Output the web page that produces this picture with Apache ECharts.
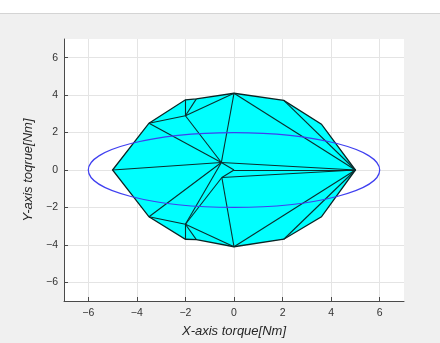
<!DOCTYPE html>
<html><head><meta charset="utf-8">
<script src="https://cdn.jsdelivr.net/npm/echarts@6/dist/echarts.min.js"></script>
<style>html,body{margin:0;padding:0;background:#f0f0f0}#c{width:440px;height:343px}</style>
</head><body><div id="c"></div>
<script>
// tick labels
const xTicks = [-6, -4, -2, 0, 2, 4, 6];
const yTicks = [-6, -4, -2, 0, 2, 4, 6];
const axisMin = -7, axisMax = 7;

// vertices
const vertexNames = ['L', 'A', 'B', 'C', 'T', 'E', 'F', 'R', 'F2', 'E2', 'T2', 'C2', 'B2', 'A2', 'D', 'D2', 'O', 'P', 'Q'];
const vertexX     = [-5, -3.5, -2.0, -1.55, 0, 2.05, 3.6, 5, 3.6, 2.05, 0, -1.55, -2.0, -3.5, -2.0, -2.0, -0.52, 0, -0.5];
const vertexY     = [0, 2.5, 3.75, 3.8, 4.1, 3.72, 2.45, 0, -2.5, -3.7, -4.1, -3.72, -3.7, -2.5, 2.9, -2.9, 0.4, 0, -0.4];

// outline of the filled region
const hullOrder = ['L', 'A', 'B', 'C', 'T', 'E', 'F', 'R', 'F2', 'E2', 'T2', 'C2', 'B2', 'A2'];

// inner edges
const edgeFrom = ['A', 'B', 'D', 'D', 'D', 'A', 'L', 'T', 'O', 'O', 'T', 'E', 'P', 'P', 'Q', 'A2', 'B2', 'D2', 'D2', 'D2', 'A2', 'Q', 'T2', 'E2', 'Q'];
const edgeTo   = ['D', 'D', 'C', 'T', 'O', 'O', 'O', 'O', 'P', 'R', 'R', 'R', 'R', 'Q', 'R', 'D2', 'D2', 'C2', 'T2', 'O', 'O', 'T2', 'R', 'R', 'D2'];

// reference ellipse
const ellipseCenter = [0, 0];
const ellipseRadii = [6, 2];

const pt = n => { const i = vertexNames.indexOf(n); return [vertexX[i], vertexY[i]]; };
const hullPts = hullOrder.map(pt);
const edgeData = edgeFrom.map((f, i) => ({ coords: [pt(f), pt(edgeTo[i])] }));
const minus = v => String(v).replace('-', '\u2212');

const chart = echarts.init(document.getElementById('c'));
const FONT = 'Liberation Sans, Arial, sans-serif';
chart.setOption({
  animation: false,
  backgroundColor: '#f0f0f0',
  graphic: [
    { type: 'rect', left: 0, top: 0, shape: { width: 440, height: 13 }, style: { fill: '#ffffff' }, z: -1 },
    { type: 'line', shape: { x1: 0, y1: 13.5, x2: 440, y2: 13.5 }, style: { stroke: '#d4d4d4', lineWidth: 1 }, z: -1 }
  ],
  grid: { left: 64, top: 39, right: 36, bottom: 35, show: true, backgroundColor: '#ffffff', borderWidth: 0 },
  xAxis: {
    type: 'value', min: axisMin, max: axisMax,
    name: 'X-axis torque[Nm]', nameLocation: 'middle', nameGap: 24,
    nameTextStyle: { fontStyle: 'italic', fontSize: 13, color: '#262626', fontFamily: FONT },
    axisLine: { show: true, onZero: false, lineStyle: { color: '#4a4a4a', width: 1 } },
    axisTick: { show: true, inside: true, length: 4, customValues: xTicks, lineStyle: { color: '#4a4a4a' } },
    axisLabel: { customValues: xTicks, formatter: minus, color: '#333333', fontSize: 10.5, margin: 7, fontFamily: FONT },
    splitLine: { show: true, lineStyle: { color: '#e4e4e4', width: 1 } }
  },
  yAxis: {
    type: 'value', min: axisMin, max: axisMax,
    name: 'Y-axis toqrue[Nm]', nameLocation: 'middle', nameGap: 22,
    nameTextStyle: { fontStyle: 'italic', fontSize: 13, color: '#262626', fontFamily: FONT },
    axisLine: { show: true, onZero: false, lineStyle: { color: '#4a4a4a', width: 1 } },
    axisTick: { show: true, inside: true, length: 4, customValues: yTicks, lineStyle: { color: '#4a4a4a' } },
    axisLabel: { customValues: yTicks, formatter: minus, color: '#333333', fontSize: 10.5, margin: 6, fontFamily: FONT },
    splitLine: { show: true, lineStyle: { color: '#e4e4e4', width: 1 } }
  },
  series: [
    {
      type: 'custom', coordinateSystem: 'cartesian2d', data: [[0, 0]], z: 2,
      renderItem: (params, api) => ({
        type: 'polygon',
        shape: { points: hullPts.map(p => api.coord(p)) },
        style: { fill: '#00ffff', stroke: '#0a2424', lineWidth: 1.3 }
      })
    },
    {
      type: 'lines', coordinateSystem: 'cartesian2d', data: edgeData, z: 3,
      lineStyle: { color: '#0a2e2e', width: 1.1, opacity: 1 }
    },
    {
      type: 'custom', coordinateSystem: 'cartesian2d', data: [ellipseCenter], z: 4,
      renderItem: (params, api) => {
        const c = api.coord(ellipseCenter);
        const s = api.size(ellipseRadii);
        const w = s[0], h = s[1];
        const d = `M ${c[0]-w} ${c[1]} A ${w} ${h} 0 1 0 ${c[0]+w} ${c[1]} A ${w} ${h} 0 1 0 ${c[0]-w} ${c[1]} Z`;
        return {
          type: 'path',
          shape: { pathData: d, x: c[0]-w, y: c[1]-h, width: 2*w, height: 2*h },
          style: { fill: 'none', stroke: '#3f3ff0', lineWidth: 1.2 }
        };
      }
    }
  ]
});
</script></body></html>
